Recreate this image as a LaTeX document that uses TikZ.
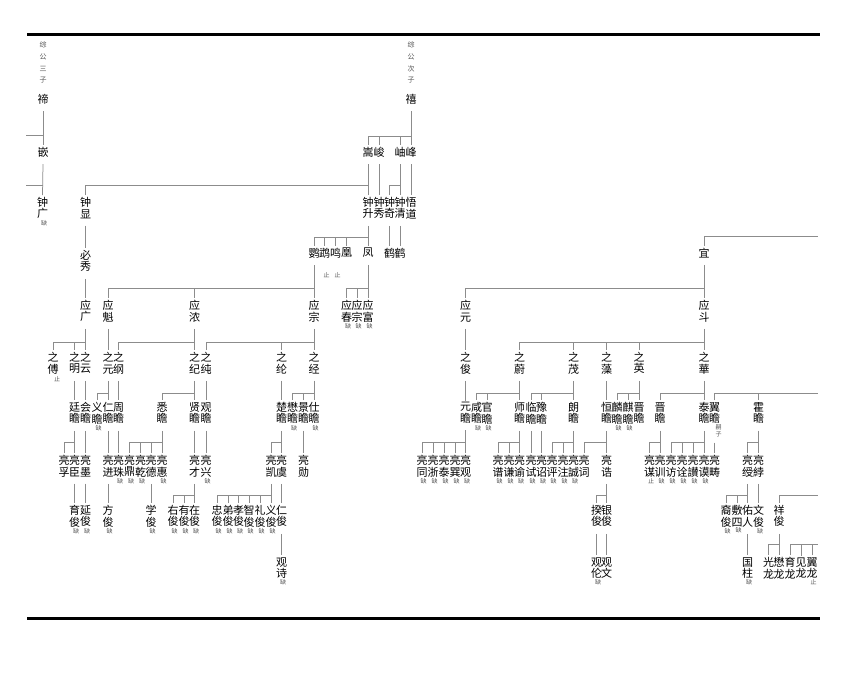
\documentclass[tikz,border=0pt]{standalone}
\usepackage{fontspec}
\newfontfamily\cjkf{Noto Sans CJK SC}
\definecolor{lg}{HTML}{8C8C8C}
\definecolor{ng}{HTML}{555555}
\tikzset{
 nm/.style={font=\cjkf\fontsize{11pt}{11.6pt}\selectfont, align=center, inner xsep=0pt, inner ysep=2pt, outer sep=0pt},
 nt/.style={font=\cjkf\fontsize{6pt}{7pt}\selectfont, text=ng, inner sep=0pt, align=center},
 hd/.style={font=\cjkf\fontsize{7pt}{11.7pt}\selectfont, text=ng, align=center, inner sep=0pt},
 ln/.style={draw=lg, line width=0.75pt},
 rulebar/.style={draw=black, line width=3pt},
}
\newcommand\gN[4]{\node[nm] (#1) at (#2,#3) {#4};}
\newcommand\gT[2]{\node[nt, anchor=north] at ([xshift=1.5pt,yshift=1pt]#1.south) {#2};}
\newcommand\gLn[2]{\draw[ln] ([yshift=-5pt]#1.south) -- (#2.north);}
\newcommand\gBr[4]{\draw[ln] ([yshift=-5pt]#1.south) -- (#2.north);
 \foreach \c in {#3} {\draw[ln] (\c.north) |- (#2.north |- #4);}}
\begin{document}
\begin{tikzpicture}[x=1pt,y=-1pt]
\useasboundingbox[fill=white] (0,0) rectangle (851,674);
\draw[rulebar] (27,35) -- (820,35);
\draw[rulebar] (27,618) -- (820,618);
% levels
\coordinate (L136) at (0,136);
\coordinate (L185) at (0,185);
\coordinate (L237) at (0,237);
\coordinate (L288) at (0,288);
\coordinate (L342) at (0,342);
\coordinate (L393) at (0,393);
\coordinate (L442) at (0,442);
\coordinate (L495) at (0,495);
\coordinate (L544) at (0,544);
\coordinate (W135) at (26,135);
\coordinate (W185) at (26,185);
\coordinate (E236) at (818,236);
\coordinate (E393) at (818,393);
\coordinate (E495) at (818,495);
\coordinate (E544) at (818,544);
% headers
\node[hd] (hdA) at (43,62.5) {综\\公\\三\\子};
\node[hd] (hdB) at (411,62.5) {综\\公\\次\\子};
% row A
\gN{di}{43}{99}{禘}
\gN{xi}{411}{99}{禧}
% row B
\gN{qian}{43}{152}{嵌}
\gN{song}{368}{152}{嵩}
\gN{jun}{379}{152}{峻}
\gN{xiu}{400}{152}{岫}
\gN{feng}{411}{152}{峰}
% row C
\gN{zg}{42.5}{208}{钟\\广}
\gN{zx}{85.5}{208}{钟\\显}
\gN{zs}{368}{208}{钟\\升}
\gN{zxiu}{379}{208}{钟\\秀}
\gN{zq}{389.5}{208}{钟\\奇}
\gN{zqing}{400}{208}{钟\\清}
\gN{wd}{411}{208}{悟\\道}
% row D
\gN{ying}{314}{253}{鹦}
\gN{wu}{324.5}{253}{鹉}
\gN{ming}{335.5}{253}{鸣}
\gN{huang}{346.5}{253}{凰}
\gN{fengb}{368}{253}{凤}
\gN{he1}{389.5}{253}{鹤}
\gN{he2}{400}{253}{鹤}
\gN{yi}{704}{253}{宜}
\gN{bx}{85.5}{261}{必\\秀}
% row E
\gN{yg}{85.5}{311}{应\\广}
\gN{yk}{108}{311}{应\\魁}
\gN{yn}{194.5}{311}{应\\浓}
\gN{yz}{314}{311}{应\\宗}
\gN{yc}{346.5}{311}{应\\春}
\gN{yz2}{357}{311}{应\\宗}
\gN{yf}{368}{311}{应\\富}
\gN{yy}{465.5}{311}{应\\元}
\gN{yd}{704}{311}{应\\斗}
% row F
\gN{fu}{53}{363}{之\\傅}
\gN{zm}{74.5}{363}{之\\明}
\gN{zy}{85.5}{363}{之\\云}
\gN{zyuan}{108}{363}{之\\元}
\gN{zgang}{118.5}{363}{之\\纲}
\gN{zji}{194.5}{363}{之\\纪}
\gN{zchun}{206}{363}{之\\纯}
\gN{zlun}{281.5}{363}{之\\纶}
\gN{zjing}{314}{363}{之\\经}
\gN{zjun}{465.5}{363}{之\\俊}
\gN{zwei}{519.5}{363}{之\\蔚}
\gN{zmao}{573.5}{363}{之\\茂}
\gN{zzao}{606.5}{363}{之\\藻}
\gN{zying}{639}{363}{之\\英}
\gN{zhua}{704}{363}{之\\華}
% row G
\gN{g1}{74.5}{413}{廷\\瞻}
\gN{g2}{85.5}{413}{会\\瞻}
\gN{g3}{97}{413}{义\\瞻}
\gN{g4}{108}{413}{仁\\瞻}
\gN{g5}{118.5}{413}{周\\瞻}
\gN{g6}{162}{413}{悉\\瞻}
\gN{g7}{194.5}{413}{贤\\瞻}
\gN{g8}{206}{413}{观\\瞻}
\gN{g9}{281.5}{413}{楚\\瞻}
\gN{g10}{292.5}{413}{懋\\瞻}
\gN{g11}{303.5}{413}{景\\瞻}
\gN{g12}{314}{413}{仕\\瞻}
\gN{g13}{465.5}{413}{元\\瞻}
\gN{g14}{476.5}{413}{咸\\瞻}
\gN{g15}{487}{413}{官\\瞻}
\gN{g16}{519.5}{413}{师\\瞻}
\gN{g17}{531}{413}{临\\瞻}
\gN{g18}{541.5}{413}{豫\\瞻}
\gN{g19}{573.5}{413}{朗\\瞻}
\gN{g20}{606.5}{413}{恒\\瞻}
\gN{g21}{617}{413}{麟\\瞻}
\gN{g22}{628}{413}{麒\\瞻}
\gN{g23}{639}{413}{晋\\瞻}
\gN{g24}{660}{413}{晋\\瞻}
\gN{g25}{704}{413}{泰\\瞻}
\gN{g26}{714.5}{413}{翼\\瞻}
\gN{g27}{758.5}{413}{霍\\瞻}
% row H
\gN{h1}{64}{466}{亮\\孚}
\gN{h2}{74.5}{466}{亮\\臣}
\gN{h3}{85.5}{466}{亮\\墨}
\gN{h4}{108}{466}{亮\\进}
\gN{h5}{118.5}{466}{亮\\珠}
\gN{h6}{129.5}{466}{亮\\鼎}
\gN{h7}{140.5}{466}{亮\\乾}
\gN{h8}{151}{466}{亮\\德}
\gN{h9}{162}{466}{亮\\惠}
\gN{h10}{194.5}{466}{亮\\才}
\gN{h11}{206}{466}{亮\\兴}
\gN{h12}{271}{466}{亮\\凯}
\gN{h13}{281.5}{466}{亮\\虞}
\gN{h14}{303.5}{466}{亮\\勋}
\gN{h15}{422}{466}{亮\\同}
\gN{h16}{433}{466}{亮\\浙}
\gN{h17}{444}{466}{亮\\泰}
\gN{h18}{455}{466}{亮\\巽}
\gN{h19}{465.5}{466}{亮\\观}
\gN{h20}{498}{466}{亮\\谱}
\gN{h21}{509}{466}{亮\\谦}
\gN{h22}{519.5}{466}{亮\\谕}
\gN{h23}{531}{466}{亮\\试}
\gN{h24}{541.5}{466}{亮\\诏}
\gN{h25}{552}{466}{亮\\评}
\gN{h26}{563}{466}{亮\\注}
\gN{h27}{573.5}{466}{亮\\誠}
\gN{h28}{584}{466}{亮\\词}
\gN{h29}{606.5}{466}{亮\\诰}
\gN{h30}{649.5}{466}{亮\\谋}
\gN{h31}{660}{466}{亮\\训}
\gN{h32}{671}{466}{亮\\访}
\gN{h33}{682}{466}{亮\\诠}
\gN{h34}{693}{466}{亮\\讃}
\gN{h35}{704}{466}{亮\\谟}
\gN{h36}{714.5}{466}{亮\\畴}
\gN{h37}{747.5}{466}{亮\\绶}
\gN{h38}{758.5}{466}{亮\\綍}
% row I
\gN{i1}{74.5}{516}{育\\俊}
\gN{i2}{85.5}{516}{延\\俊}
\gN{i3}{108}{516}{方\\俊}
\gN{i4}{151}{516}{学\\俊}
\gN{i5}{173}{516}{右\\俊}
\gN{i6}{184}{516}{有\\俊}
\gN{i7}{194.5}{516}{在\\俊}
\gN{i8}{217}{516}{忠\\俊}
\gN{i9}{228}{516}{弟\\俊}
\gN{i10}{238.5}{516}{孝\\俊}
\gN{i11}{249}{516}{智\\俊}
\gN{i12}{260}{516}{礼\\俊}
\gN{i13}{271}{516}{义\\俊}
\gN{i14}{281.5}{516}{仁\\俊}
\gN{i15}{596.5}{516}{揆\\俊}
\gN{i16}{606.5}{516}{银\\俊}
\gN{i17}{726}{516}{裔\\俊}
\gN{i18}{737}{516}{敷\\四}
\gN{i19}{747.5}{516}{佑\\人}
\gN{i20}{758.5}{516}{文\\俊}
\gN{i21}{779}{516}{祥\\俊}
% row J
\gN{j1}{281.5}{568}{观\\诗}
\gN{j2}{596.5}{568}{观\\伦}
\gN{j3}{606.5}{568}{观\\文}
\gN{j4}{747.5}{568}{国\\柱}
\gN{j5}{768.5}{568}{光\\龙}
\gN{j6}{779}{568}{懋\\龙}
\gN{j7}{790}{568}{育\\龙}
\gN{j8}{801}{568}{见\\龙}
\gN{j9}{812}{568}{翼\\龙}
% notes
\node[nt] at (326.5,275) {止};
\node[nt] at (337.5,275) {止};
\foreach \n in {zg,yc,yz2,yf,g3,g10,g12,g14,g15,g21,g22,h5,h6,h7,h9,h11,h15,h16,h17,h18,h19,h20,h21,h22,h23,h24,h25,h26,h27,h31,h32,h33,h34,h35,i1,i2,i3,i4,i5,i6,i7,i8,i9,i10,i11,i12,i13,i17,i18,i20,j1,j2,j4} {\gT{\n}{缺}}
\node[nt, anchor=north] at ([xshift=4pt]fu.south) {止};
\gT{h30}{止}
\gT{j9}{止}
\node[nt, anchor=north] at ([xshift=4pt,yshift=1pt]g26.south) {嗣\\子};
% connectors
\gLn{di}{qian}
\gLn{qian}{zg}
\draw[ln] (W135) -- (W135 -| di);
\draw[ln] (W185) -- (W185 -| zg);
\gBr{xi}{feng}{song,jun,xiu}{L136}
\gBr{song}{zs}{zx}{L185}
\gLn{jun}{zxiu}
\gBr{xiu}{zqing}{zq}{L185}
\gLn{feng}{wd}
\gLn{zx}{bx}
\gLn{bx}{yg}
\gBr{zs}{fengb}{ying,wu,ming,huang}{L237}
\gLn{zq}{he1}
\gLn{zqing}{he2}
\gBr{ying}{yz}{yk,yn}{L288}
\gBr{fengb}{yf}{yc,yz2}{L288}
\gBr{yi}{yd}{yy}{L288}
\draw[ln] (yi.north) |- (E236);
\gBr{yg}{zy}{fu,zm}{L342}
\gLn{yk}{zyuan}
\gBr{yn}{zji}{zgang}{L342}
\gBr{yz}{zjing}{zchun,zlun}{L342}
\gLn{yy}{zjun}
\gBr{yd}{zhua}{zwei,zmao,zzao,zying}{L342}
\gLn{zm}{g1}
\gLn{zy}{g2}
\gBr{zyuan}{g4}{g3}{L393}
\gLn{zgang}{g5}
\gBr{zji}{g7}{g6}{L393}
\gLn{zchun}{g8}
\gLn{zlun}{g9}
\gBr{zjing}{g12}{g10,g11}{L393}
\gLn{zjun}{g13}
\gBr{zwei}{g16}{g14,g15}{L393}
\gBr{zmao}{g19}{g17,g18}{L393}
\gLn{zzao}{g20}
\gBr{zying}{g23}{g21,g22}{L393}
\gBr{zhua}{g25}{g24}{L393}
\draw[ln] (g26.north) |- (E393);
\draw[ln] (g27.north) -- (g27.north |- L393);
\gBr{g1}{h2}{h1}{L442}
\gLn{g2}{h3}
\gLn{g4}{h4}
\gLn{g5}{h5}
\gBr{g6}{h9}{h6,h7,h8}{L442}
\gLn{g7}{h10}
\gLn{g8}{h11}
\gBr{g9}{h13}{h12}{L442}
\gLn{g11}{h14}
\gBr{g13}{h19}{h15,h16,h17,h18}{L442}
\gBr{g16}{h22}{h20,h21}{L442}
\gLn{g17}{h23}
\gLn{g18}{h24}
\gBr{g19}{h27}{h25,h26}{L442}
\gBr{g20}{h29}{h28}{L442}
\gBr{g24}{h31}{h30}{L442}
\gBr{g25}{h35}{h32,h33,h34}{L442}
\draw[ln] ([yshift=-17pt]g26.south) -- (h36.north);
\gBr{g27}{h38}{h37}{L442}
\gLn{h2}{i1}
\gLn{h3}{i2}
\gLn{h4}{i3}
\gLn{h8}{i4}
\gBr{h10}{i7}{i5,i6}{L495}
\gBr{h12}{i13}{i8,i9,i10,i11,i12}{L495}
\gLn{h13}{i14}
\gBr{h29}{i16}{i15}{L495}
\gBr{h37}{i19}{i17,i18}{L495}
\gLn{h38}{i20}
\draw[ln] (i21.north) |- (E495);
\gLn{i14}{j1}
\gLn{i15}{j2}
\gLn{i16}{j3}
\gLn{i19}{j4}
\gBr{i21}{j6}{j5}{L544}
\draw[ln] (j7.north) |- (E544);
\draw[ln] (j8.north) -- (j8.north |- L544);
\draw[ln] (j9.north) -- (j9.north |- L544);
\end{tikzpicture}
\end{document}
